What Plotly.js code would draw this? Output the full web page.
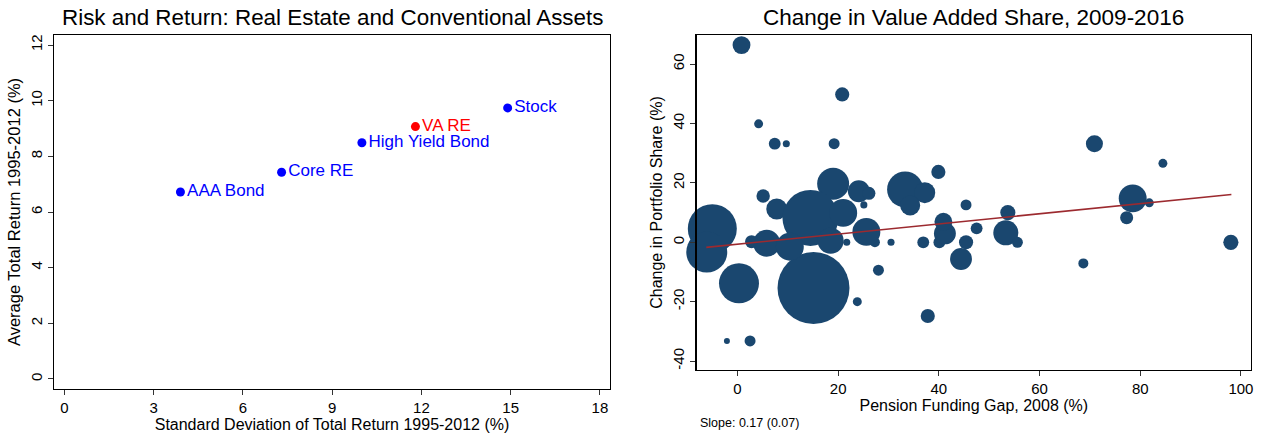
<!DOCTYPE html>
<html>
<head>
<meta charset="utf-8">
<script src="https://cdn.plot.ly/plotly-3.0.1.min.js"></script>
<style>
  html, body { margin: 0; padding: 0; background: #ffffff; }
  #chart { width: 1262px; height: 436px; }
</style>
</head>
<body>
<div id="chart"></div>
<script>
// ---------- Left panel: risk and return ----------
const assetNames  = ['AAA Bond', 'Core RE', 'High Yield Bond', 'VA RE', 'Stock'];
const assetRisk   = [3.9, 7.3, 10.0, 11.8, 14.9];     // std. dev. of total return (%)
const assetReturn = [6.72, 7.43, 8.49, 9.07, 9.74];   // average total return (%)
const highlightedAsset = 'VA RE';

const leftXTicks = [0, 3, 6, 9, 12, 15, 18];
const leftYTicks = [0, 2, 4, 6, 8, 10, 12];

// ---------- Right panel: change in value added share ----------
const fundingGap = [0.8, 20.8, 4.2, 7.4, 9.7, 19.2, 39.9, 5.1, 45.4, 19.0,
                    33.3, 37.2, 34.3, 24.1, 26.1, 25.1, -5.0, -6.1, 0.3, 15.1,
                    -2.1, 2.5, 23.8, 28.0, 37.8, 30.5, 21.7, 27.3, 36.9, 40.1,
                    41.2, 40.9, 45.4, 44.4, 47.5, 53.3, 53.7, 55.6, 70.9, 84.5,
                    78.5, 81.8, 77.3, 68.7, 98.0, 7.8, 14.5, 25.6, 5.8, 2.8,
                    21.0, 18.5, 10.4];
const shareChange = [66.4, 49.8, 39.9, 33.2, 33.2, 33.2, 23.7, 15.6, 12.6, 19.7,
                     17.8, 16.7, 12.4, 17.2, 16.5, 12.6, 4.6, -3.3, -13.8, -15.4,
                     -33.2, -33.2, -20.0, -9.4, -24.8, 0, 0, 0, 0, 0,
                     3.0, 6.9, 0, -5.6, 4.7, 3.2, 10.0, 0, 33.2, 26.6,
                     14.8, 13.3, 8.3, -7.1, 0, 11.2, 8.2, 3.5, -0.3, 0.2,
                     9.9, 0.5, -1.5];
const bubbleWeight = [3.2, 2.0, 0.8, 1.4, 0.5, 1.2, 2.0, 1.8, 1.2, 10.2,
                      13.0, 4.4, 4.0, 4.8, 1.7, 0.5, 24.0, 16.8, 16.0, 51.8,
                      0.36, 1.2, 0.8, 1.2, 2.0, 0.5, 0.5, 1.0, 1.4, 1.4,
                      4.8, 3.2, 2.0, 4.8, 1.4, 6.3, 2.3, 1.2, 2.9, 0.8,
                      7.8, 0.8, 1.7, 1.0, 2.3, 4.4, 31.4, 7.8, 7.3, 1.7,
                      7.8, 6.8, 7.8];
const fitX = [-6.2, 98.1];
const fitY = [-1.7, 16.1];
const slopeText = 'Slope: 0.17 (0.07)';

const rightXTicks = [0, 20, 40, 60, 80, 100];
const rightYTicks = [-40, -20, 0, 20, 40, 60];

// ---------- styling ----------
const FONT = 'Liberation Sans, Arial, Helvetica, sans-serif';
const NAVY = '#1a476f';

const traces = [
  {
    type: 'scatter', mode: 'markers+text',
    x: assetRisk, y: assetReturn, text: assetNames,
    textposition: 'middle right',
    marker: { size: 9, color: assetNames.map(n => n === highlightedAsset ? '#ff0000' : '#0000ff') },
    textfont: { family: FONT, size: 17, color: assetNames.map(n => n === highlightedAsset ? '#ff0000' : '#0000ff') },
    xaxis: 'x', yaxis: 'y', hoverinfo: 'x+y+text', showlegend: false, cliponaxis: false
  },
  {
    type: 'scatter', mode: 'markers',
    x: fundingGap, y: shareChange,
    marker: { size: bubbleWeight, sizemode: 'area', sizeref: 0.02, color: NAVY, opacity: 1, line: { width: 0 } },
    xaxis: 'x2', yaxis: 'y2', showlegend: false, cliponaxis: false
  },
  {
    type: 'scatter', mode: 'lines',
    x: fitX, y: fitY,
    line: { color: '#9c2a2f', width: 1.6 },
    xaxis: 'x2', yaxis: 'y2', showlegend: false, hoverinfo: 'skip'
  }
];

const axisCommon = {
  showgrid: false, zeroline: false, showline: true, linecolor: '#000000', linewidth: 1.3,
  mirror: true, ticks: 'outside', ticklen: 5, tickwidth: 1, tickcolor: '#333333',
  tickfont: { family: FONT, size: 15, color: '#000000' }, automargin: false, fixedrange: true
};

const layout = {
  width: 1262, height: 436,
  margin: { l: 0, r: 0, t: 0, b: 0 },
  paper_bgcolor: '#ffffff', plot_bgcolor: '#ffffff',
  font: { family: FONT, color: '#000000' },
  showlegend: false,
  xaxis: Object.assign({}, axisCommon, {
    domain: [54.3 / 1262, 609.7 / 1262], anchor: 'y',
    range: [-0.34, 18.33], tickvals: leftXTicks, ticktext: leftXTicks.map(String),
    title: { text: 'Standard Deviation of Total Return 1995-2012 (%)', font: { family: FONT, size: 16, color: '#000000' }, standoff: 2 }
  }),
  yaxis: Object.assign({}, axisCommon, {
    domain: [1 - 389 / 436, 1 - 35 / 436], anchor: 'x',
    range: [-0.36, 12.36], tickvals: leftYTicks, ticktext: leftYTicks.map(String), tickangle: -90,
    title: { text: 'Average Total Return 1995-2012 (%)', font: { family: FONT, size: 16.5, color: '#000000' }, standoff: 3 }
  }),
  xaxis2: Object.assign({}, axisCommon, {
    domain: [696.7 / 1262, 1251 / 1262], anchor: 'y2',
    range: [-8.1, 102], tickvals: rightXTicks, ticktext: rightXTicks.map(String),
    title: { text: 'Pension Funding Gap, 2008 (%)', font: { family: FONT, size: 16, color: '#000000' }, standoff: 1 }
  }),
  yaxis2: Object.assign({}, axisCommon, {
    domain: [1 - 370 / 436, 1 - 35 / 436], anchor: 'x2',
    range: [-43, 69.8], tickvals: rightYTicks, ticktext: rightYTicks.map(String), tickangle: -90,
    title: { text: 'Change in Portfolio Share (%)', font: { family: FONT, size: 16, color: '#000000' }, standoff: 3 }
  }),
  annotations: [
    { text: 'Risk and Return: Real Estate and Conventional Assets', xref: 'paper', yref: 'paper',
      x: 332 / 1262, y: 1 - 18 / 436, xanchor: 'center', yanchor: 'middle', showarrow: false,
      font: { family: FONT, size: 22.4, color: '#000000' } },
    { text: 'Change in Value Added Share, 2009-2016', xref: 'paper', yref: 'paper',
      x: 973.5 / 1262, y: 1 - 18 / 436, xanchor: 'center', yanchor: 'middle', showarrow: false,
      font: { family: FONT, size: 22.5, color: '#000000' } },
    { text: slopeText, xref: 'paper', yref: 'paper',
      x: 698 / 1262, y: 1 - 423 / 436, xanchor: 'left', yanchor: 'middle', showarrow: false,
      font: { family: FONT, size: 12.5, color: '#000000' } }
  ]
};

Plotly.newPlot('chart', traces, layout, { staticPlot: true, displayModeBar: false });
</script>
</body>
</html>
